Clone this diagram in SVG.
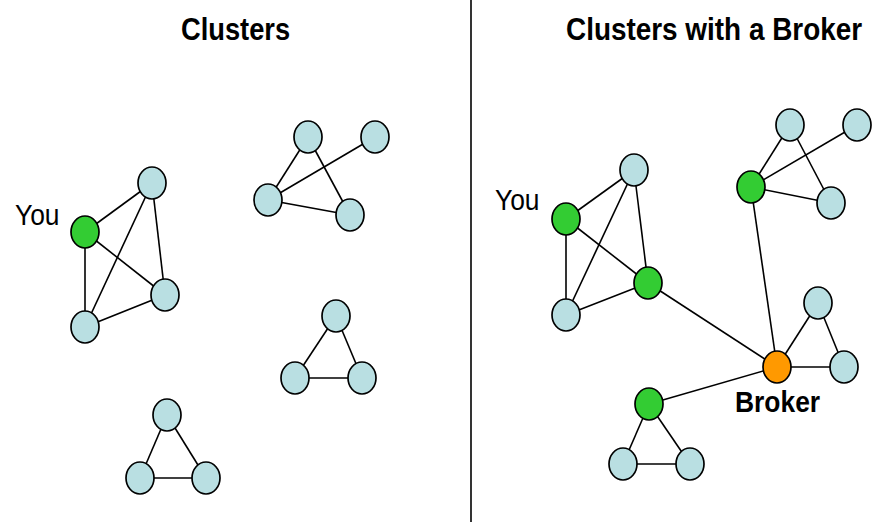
<svg xmlns="http://www.w3.org/2000/svg" width="873" height="522" viewBox="0 0 873 522">
  <style>
    .edge { stroke: #000; stroke-width: 1.6; fill: none; }
    .node { stroke: #000; stroke-width: 1.7; }
    .plain { fill: #b9dfe2; }
    .member { fill: #33cc33; }
    .broker { fill: #ff9900; }
    .title { font-family: "Liberation Sans", Arial, sans-serif; font-weight: bold; font-size: 31px; fill: #000; }
    .label { font-family: "Liberation Sans", Arial, sans-serif; font-size: 30px; fill: #000; }
    .blabel { font-family: "Liberation Sans", Arial, sans-serif; font-weight: bold; font-size: 30px; fill: #000; }
  </style>
  <defs>
    <ellipse id="dot" cx="0" cy="0" rx="14" ry="16"/>
  </defs>
  <rect width="873" height="522" fill="#fff"/>

  <!-- panel divider -->
  <line x1="471" y1="0" x2="471" y2="522" stroke="#000" stroke-width="1.6"/>

  <!-- headings (horizontally condensed) -->
  <text class="title" transform="translate(181 40) scale(0.88 1)">Clusters</text>
  <text class="title" transform="translate(566 40) scale(0.9 1)">Clusters with a Broker</text>

  <g id="connectors">
    <!-- left panel: cluster containing "You" -->
    <line class="edge" x1="85" y1="232" x2="152" y2="183"/>
    <line class="edge" x1="85" y1="232" x2="165" y2="295"/>
    <line class="edge" x1="85" y1="232" x2="85" y2="327"/>
    <line class="edge" x1="152" y1="183" x2="165" y2="295"/>
    <line class="edge" x1="152" y1="183" x2="85" y2="327"/>
    <line class="edge" x1="85" y1="327" x2="165" y2="295"/>
    <!-- left panel: upper right cluster -->
    <line class="edge" x1="308" y1="137" x2="268" y2="200"/>
    <line class="edge" x1="308" y1="137" x2="350" y2="215"/>
    <line class="edge" x1="375" y1="137" x2="268" y2="200"/>
    <line class="edge" x1="268" y1="200" x2="350" y2="215"/>
    <!-- left panel: middle triangle -->
    <line class="edge" x1="336" y1="316" x2="295" y2="378"/>
    <line class="edge" x1="336" y1="316" x2="362" y2="378"/>
    <line class="edge" x1="295" y1="378" x2="362" y2="378"/>
    <!-- left panel: bottom triangle -->
    <line class="edge" x1="167" y1="415" x2="140" y2="478"/>
    <line class="edge" x1="167" y1="415" x2="206" y2="478"/>
    <line class="edge" x1="140" y1="478" x2="206" y2="478"/>

    <!-- right panel: cluster containing "You" -->
    <line class="edge" x1="566" y1="219" x2="634" y2="170"/>
    <line class="edge" x1="566" y1="219" x2="648" y2="283"/>
    <line class="edge" x1="566" y1="219" x2="566" y2="315"/>
    <line class="edge" x1="634" y1="170" x2="648" y2="283"/>
    <line class="edge" x1="634" y1="170" x2="566" y2="315"/>
    <line class="edge" x1="566" y1="315" x2="648" y2="283"/>
    <!-- right panel: upper cluster -->
    <line class="edge" x1="790" y1="125" x2="751" y2="187"/>
    <line class="edge" x1="790" y1="125" x2="831" y2="203"/>
    <line class="edge" x1="857" y1="125" x2="751" y2="187"/>
    <line class="edge" x1="751" y1="187" x2="831" y2="203"/>
    <!-- right panel: broker's own triangle -->
    <line class="edge" x1="777" y1="367" x2="818" y2="303"/>
    <line class="edge" x1="818" y1="303" x2="844" y2="367"/>
    <line class="edge" x1="777" y1="367" x2="844" y2="367"/>
    <!-- right panel: bottom cluster -->
    <line class="edge" x1="649" y1="404" x2="623" y2="464"/>
    <line class="edge" x1="649" y1="404" x2="690" y2="464"/>
    <line class="edge" x1="623" y1="464" x2="690" y2="464"/>
    <!-- right panel: broker links -->
    <line class="edge" x1="777" y1="367" x2="648" y2="283"/>
    <line class="edge" x1="777" y1="367" x2="751" y2="187"/>
    <line class="edge" x1="777" y1="367" x2="649" y2="404"/>
  </g>

  <!-- left panel nodes -->
  <g id="l-you"><use href="#dot" x="85" y="232" class="node member"/><text class="label" transform="translate(15 225) scale(0.88 1)">You</text></g>
  <g id="l-a1"><use href="#dot" x="152" y="183" class="node plain"/></g>
  <g id="l-a2"><use href="#dot" x="165" y="295" class="node plain"/></g>
  <g id="l-a3"><use href="#dot" x="85" y="327" class="node plain"/></g>
  <g id="l-b1"><use href="#dot" x="308" y="137" class="node plain"/></g>
  <g id="l-b2"><use href="#dot" x="375" y="137" class="node plain"/></g>
  <g id="l-b3"><use href="#dot" x="268" y="200" class="node plain"/></g>
  <g id="l-b4"><use href="#dot" x="350" y="215" class="node plain"/></g>
  <g id="l-c1"><use href="#dot" x="336" y="316" class="node plain"/></g>
  <g id="l-c2"><use href="#dot" x="295" y="378" class="node plain"/></g>
  <g id="l-c3"><use href="#dot" x="362" y="378" class="node plain"/></g>
  <g id="l-d1"><use href="#dot" x="167" y="415" class="node plain"/></g>
  <g id="l-d2"><use href="#dot" x="140" y="478" class="node plain"/></g>
  <g id="l-d3"><use href="#dot" x="206" y="478" class="node plain"/></g>

  <!-- right panel nodes -->
  <g id="r-you"><use href="#dot" x="566" y="219" class="node member"/><text class="label" transform="translate(495 210) scale(0.88 1)">You</text></g>
  <g id="r-a1"><use href="#dot" x="634" y="170" class="node plain"/></g>
  <g id="r-a2"><use href="#dot" x="648" y="283" class="node member"/></g>
  <g id="r-a3"><use href="#dot" x="566" y="315" class="node plain"/></g>
  <g id="r-b1"><use href="#dot" x="790" y="125" class="node plain"/></g>
  <g id="r-b2"><use href="#dot" x="857" y="125" class="node plain"/></g>
  <g id="r-b3"><use href="#dot" x="751" y="187" class="node member"/></g>
  <g id="r-b4"><use href="#dot" x="831" y="203" class="node plain"/></g>
  <g id="r-broker"><use href="#dot" x="777" y="367" class="node broker"/><text class="blabel" transform="translate(735 412) scale(0.88 1)">Broker</text></g>
  <g id="r-c1"><use href="#dot" x="818" y="303" class="node plain"/></g>
  <g id="r-c2"><use href="#dot" x="844" y="367" class="node plain"/></g>
  <g id="r-d1"><use href="#dot" x="649" y="404" class="node member"/></g>
  <g id="r-d2"><use href="#dot" x="623" y="464" class="node plain"/></g>
  <g id="r-d3"><use href="#dot" x="690" y="464" class="node plain"/></g>
</svg>
